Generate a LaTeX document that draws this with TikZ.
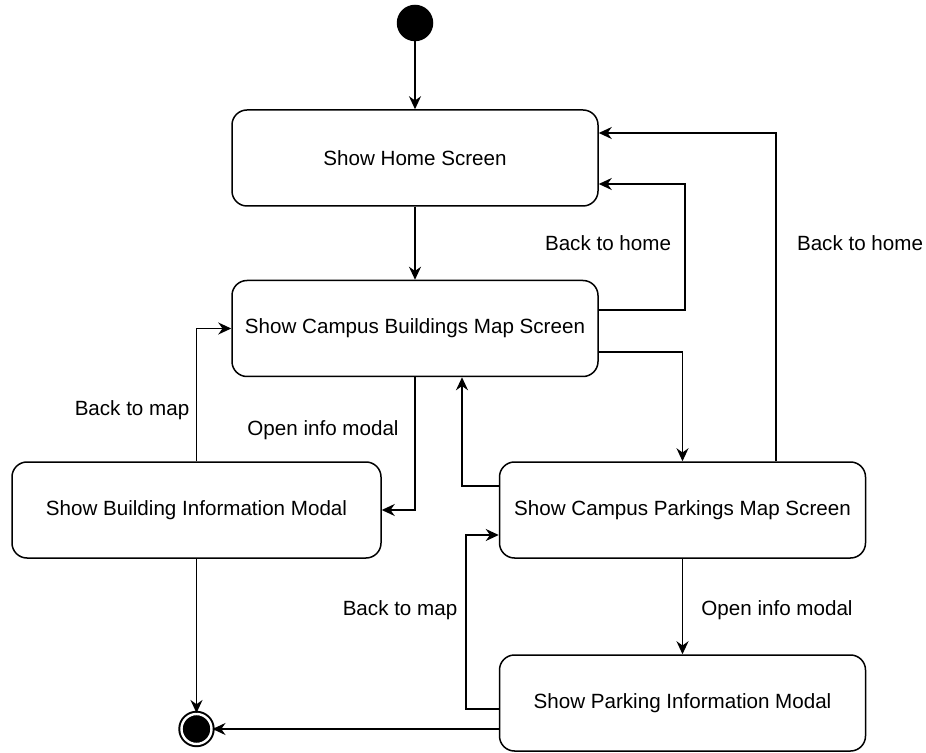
\documentclass[tikz,border=0pt]{standalone}
\usepackage{fontspec}
\setmainfont{Liberation Sans}
\usetikzlibrary{arrows.meta}

\begin{document}
\begin{tikzpicture}[x=0.5pt, y=-0.5pt, line width=0.75pt,
    font=\fontsize{10.3}{12}\selectfont,
    state/.style = {draw, rounded corners=7.5pt, minimum width=183pt, minimum height=48pt},
    wide/.style = {minimum width=184.5pt},
    init/.style = {draw, circle, fill=black, minimum size=17.5pt, inner sep=0pt},
    final/.style = {draw, circle, fill=black, line width=1pt, double=white, double distance=1.2pt, minimum size=15pt, inner sep=0pt},
    flow/.style = {-{Stealth[length=6.5pt, width=6pt]}}]
    \useasboundingbox (0,0) rectangle (926,753);

    % states
    \node[init] (start) at (415,23) {};
    \node[state] (home) at (415,158) {Show Home Screen};
    \node[state] (map) at (415,328.5) {Show Campus Buildings Map Screen};
    \node[state, wide] (building) at (196.5,510) {Show Building Information Modal};
    \node[state] (parkings) at (682.5,510) {Show Campus Parkings Map Screen};
    \node[state] (pinfo) at (682.5,703) {Show Parking Information Modal};
    \node[final] (stop) at (196.5,729) {};

    % transition labels
    \node (lhome) at (608,243) {Back to home};
    \node (lhome2) at (860,243) {Back to home};
    \node (lmap) at (132,410) {Back to map};
    \node (lopen) at (323,430) {Open info modal};
    \node (lmap2) at (400,610) {Back to map};
    \node (lopen2) at (777,610) {Open info modal};

    % transitions
    \draw[flow] (start) -- (home);
    \draw[flow] (home) -- (map);
    \draw[flow] ([yshift=9.25pt]map.east) -- ++(86,0) |- ([yshift=-13pt]home.east);
    \draw[flow] ([xshift=46.75pt]parkings.north) |- ([yshift=12.5pt]home.east);
    \draw[flow] ([yshift=-11.75pt]map.east) -| (parkings.north);
    \draw[flow] (map.south) |- (building.east);
    \draw[flow] (building.north) |- (map.west);
    \draw[flow] ([yshift=12pt]parkings.west) -| ([xshift=23.5pt]map.south);
    \draw[flow] (parkings) -- (pinfo);
    \draw[flow] ([yshift=-3pt]pinfo.west) -- ++(-33,0) |- ([yshift=-12.5pt]parkings.west);
    \draw[flow] (building) -- (stop);
    \draw[flow] (stop -| pinfo.west) -- (stop);
\end{tikzpicture}
\end{document}
